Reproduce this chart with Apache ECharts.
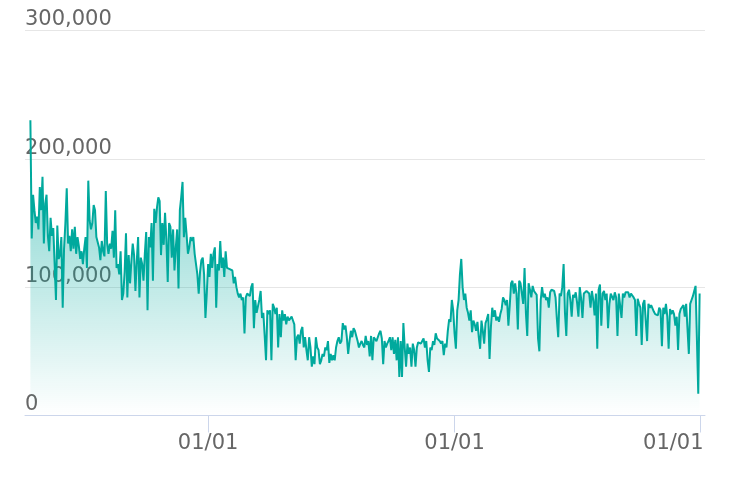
<!DOCTYPE html>
<html><head><meta charset="utf-8">
<script src="https://cdn.jsdelivr.net/npm/echarts@6/dist/echarts.min.js"></script>
<style>html,body{margin:0;padding:0;background:#fff}#c{width:730px;height:480px}</style>
</head><body><div id="c"></div>
<script>
// first observation date and spacing between observations (days)
const startDate = [2019, 3, 12];
const stepDays = 2;
// series values in thousands
const valuesK = [
230,138,172,160,150,155,145,178,160,186,
134,165,172,140,128,154,140,146,118,90,
148,122,125,139,84,130,150,177,134,140,
128,145,130,147,126,139,132,122,128,118,
130,139,115,183,152,145,150,164,160,139,
135,131,121,136,128,124,175,134,126,134,
130,144,123,160,115,118,110,128,90,95,
112,142,92,125,103,120,134,125,97,120,
139,92,123,118,105,126,143,82,139,131,
150,105,161,150,162,170,167,125,150,133,
158,137,104,150,147,123,145,113,131,145,
99,160,170,182,139,154,141,126,131,139,
136,139,126,118,110,95,112,121,123,110,
76,95,118,108,126,115,126,131,84,118,
113,136,115,123,108,128,115,116,114,115,
113,103,108,100,95,92,95,90,92,64,
92,95,94,93,100,103,68,90,80,85,
90,97,76,80,62,43,82,79,82,43,
87,84,79,84,53,79,61,82,74,79,
71,77,74,74,77,74,71,43,61,63,
56,66,69,53,61,51,43,61,53,38,
46,40,61,53,51,40,43,48,46,53,
51,58,41,48,43,47,43,53,58,61,
56,58,72,67,70,61,48,58,66,61,
68,66,62,58,53,56,58,55,53,62,
55,58,46,62,43,61,62,58,61,64,
66,60,40,58,53,56,58,61,51,61,
48,59,43,61,30,58,30,72,53,38,
56,48,53,38,56,51,38,53,57,58,
56,58,60,53,58,43,34,53,51,58,
55,64,60,61,58,56,58,47,56,53,
66,75,73,90,82,64,52,82,90,110,
122,100,90,95,84,80,74,82,65,74,
71,66,73,61,52,74,66,56,72,75,
79,44,69,84,77,82,74,77,73,79,
83,92,90,86,90,70,86,103,105,95,
103,95,67,105,103,95,87,115,80,62,
103,98,92,101,97,98,94,60,50,90,
100,92,95,90,92,84,96,98,99,97,
92,75,61,95,93,100,118,80,62,95,
98,90,77,94,92,96,88,77,100,91,
76,95,94,97,96,95,84,97,90,78,
95,52,98,102,70,95,97,90,95,68,
87,95,96,90,96,92,62,95,95,76,
95,92,96,95,96,92,95,95,92,90,
62,91,87,84,55,87,90,91,58,87,
84,86,87,81,79,80,78,84,82,54,
84,79,87,77,52,83,79,82,79,70,
77,51,79,83,82,86,77,87,88,48,
87,90,93,97,101,100,17,95
];
const xTickDates = [[2020,0,1],[2021,0,1],[2022,0,1]];
const xRange = [[2019,3,4],[2022,0,8]];
const yTicks = [0, 100000, 200000, 300000];

const DAY = 86400000;
const ts = d => Date.UTC(d[0], d[1], d[2]);
const t0 = ts(startDate);
const data = valuesK.map((v, i) => [t0 + i * stepDays * DAY, v * 1000]);
const tickTs = xTickDates.map(ts);
const lastTick = tickTs[tickTs.length - 1];
const pad = n => (n < 10 ? '0' : '') + n;
const fmtDate = v => {
  const d = new Date(v);
  const s = pad(d.getUTCMonth() + 1) + '/' + pad(d.getUTCDate());
  return v === lastTick ? '{last|' + s + '}' : s;
};
const fmtNum = v => String(v).replace(/\B(?=(\d{3})+(?!\d))/g, ',');
const FONT = 'DejaVu Sans';

const chart = echarts.init(document.getElementById('c'), null, {renderer: 'canvas'});
chart.setOption({
  animation: false,
  grid: {left: 25, right: 25, top: 30.5, bottom: 64.5, containLabel: false},
  xAxis: {
    type: 'value',
    min: ts(xRange[0]), max: ts(xRange[1]),
    axisLine: {lineStyle: {color: '#ccd6eb', width: 1}},
    axisTick: {show: true, length: 17, customValues: tickTs, lineStyle: {color: '#ccd6eb', width: 1}},
    axisLabel: {customValues: tickTs, formatter: fmtDate, color: '#666666', fontSize: 21,
      fontFamily: FONT, margin: 18, hideOverlap: false,
      rich: {last: {color: '#666666', fontSize: 21, fontFamily: FONT, padding: [0, 54, 0, 0]}}},
    splitLine: {show: false}
  },
  yAxis: {
    type: 'value', min: yTicks[0], max: yTicks[yTicks.length - 1], interval: yTicks[1] - yTicks[0],
    axisLine: {show: false}, axisTick: {show: false},
    axisLabel: {inside: true, margin: 0, verticalAlign: 'bottom', align: 'left', color: '#666666',
      fontSize: 21, fontFamily: FONT, formatter: fmtNum},
    splitLine: {lineStyle: {color: '#e6e6e6', width: 1}}
  },
  series: [{
    type: 'line', data: data, showSymbol: false, symbol: 'none',
    lineStyle: {color: '#00a99d', width: 2},
    itemStyle: {color: '#00a99d'},
    areaStyle: {color: new echarts.graphic.LinearGradient(0, 0, 0, 1, [
      {offset: 0, color: 'rgba(0,169,157,0.8)'},
      {offset: 1, color: 'rgba(0,169,157,0)'}
    ])}
  }]
});
</script>
</body></html>
